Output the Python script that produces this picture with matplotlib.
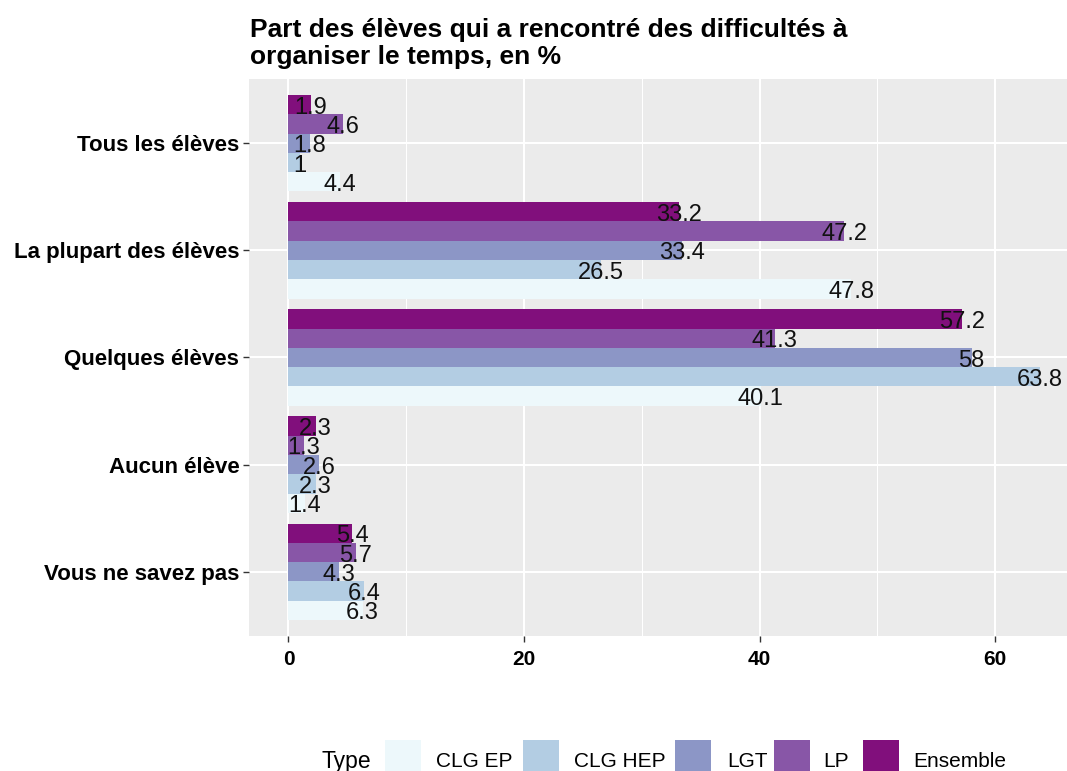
import matplotlib
matplotlib.use("Agg")
import matplotlib.pyplot as plt
from matplotlib.patches import Rectangle
import numpy as np

plt.rcParams['font.family'] = ['Liberation Sans', 'DejaVu Sans']

categories = ["Tous les élèves", "La plupart des élèves", "Quelques élèves",
              "Aucun élève", "Vous ne savez pas"]
series = ["CLG EP", "CLG HEP", "LGT", "LP", "Ensemble"]
clg_ep = [4.4, 47.8, 40.1, 1.4, 6.3]
clg_hep = [1, 26.5, 63.8, 2.3, 6.4]
lgt = [1.8, 33.4, 58, 2.6, 4.3]
lp = [4.6, 47.2, 41.3, 1.3, 5.7]
ensemble = [1.9, 33.2, 57.2, 2.3, 5.4]
values = [clg_ep, clg_hep, lgt, lp, ensemble]
colors = ["#EDF8FB", "#B3CDE3", "#8C96C6", "#8856A7", "#810F7C"]
title_lines = ["Part des élèves qui a rencontré des difficultés à",
               "organiser le temps, en %"]
legend_title = "Type"
xticks = [0, 20, 40, 60]

W, H = 1067, 771
fig = plt.figure(figsize=(W / 100, H / 100), dpi=100)
fig.patch.set_facecolor("white")

left, right, top, bottom = 249, 1067, 79, 636
ax = fig.add_axes([left / W, 1 - bottom / H, (right - left) / W, (bottom - top) / H])
ax.set_facecolor("#EBEBEB")
for s in ax.spines.values():
    s.set_visible(False)

n = len(categories)
ypos = np.arange(n)[::-1]  # top category highest
bw = 0.18
offsets = [-0.36, -0.18, 0.0, 0.18, 0.36]

ax.set_xlim(-3.35, 66.1)
ax.set_ylim(-0.6, n - 1 + 0.6)

# grid
for m in [10, 30, 50]:
    ax.axvline(m, color="white", lw=0.75, zorder=0.5)
for m in xticks:
    ax.axvline(m, color="white", lw=1.5, zorder=0.6)
for y in ypos:
    ax.axhline(y, color="white", lw=1.5, zorder=0.6)

for vals, col, off in zip(values, colors, offsets):
    ax.barh(ypos + off, vals, height=bw, color=col, zorder=2, linewidth=0)

for vals, off in zip(values, offsets):
    for y, v in zip(ypos, vals):
        ax.text(v, y + off - 0.085, f"{v:g}", ha="center", va="baseline",
                fontsize=17, color="#111111", zorder=3)

ax.set_yticks(ypos)
ax.set_yticklabels(categories, fontsize=16, fontweight="bold", color="black")
ax.set_xticks(xticks)
ax.set_xticklabels([str(t) for t in xticks], fontsize=15, fontweight="bold", color="black")
ax.tick_params(axis="both", length=4, width=1, color="#333333")
ax.tick_params(axis="y", pad=3)
ax.tick_params(axis="x", pad=6)

# title
fig.text(250 / W, 1 - 37 / H, title_lines[0], fontsize=19, fontweight="bold",
         ha="left", va="baseline")
fig.text(250 / W, 1 - 64 / H, title_lines[1], fontsize=19, fontweight="bold",
         ha="left", va="baseline")

# legend
fig.text(321 / W, 1 - 768 / H, legend_title, fontsize=16.5, ha="left", va="baseline")
key_x = [385, 523, 675, 774, 863]
lab_x = [436, 574, 727, 823, 913]
for kx, lx, col, name in zip(key_x, lab_x, colors, series):
    fig.add_artist(Rectangle((kx / W, 1 - 777 / H), 36 / W, 37 / H,
                             transform=fig.transFigure, facecolor=col,
                             edgecolor="none"))
    fig.text(lx / W, 1 - 767 / H, name, fontsize=15, ha="left", va="baseline")

fig.savefig("out.png", dpi=100)
